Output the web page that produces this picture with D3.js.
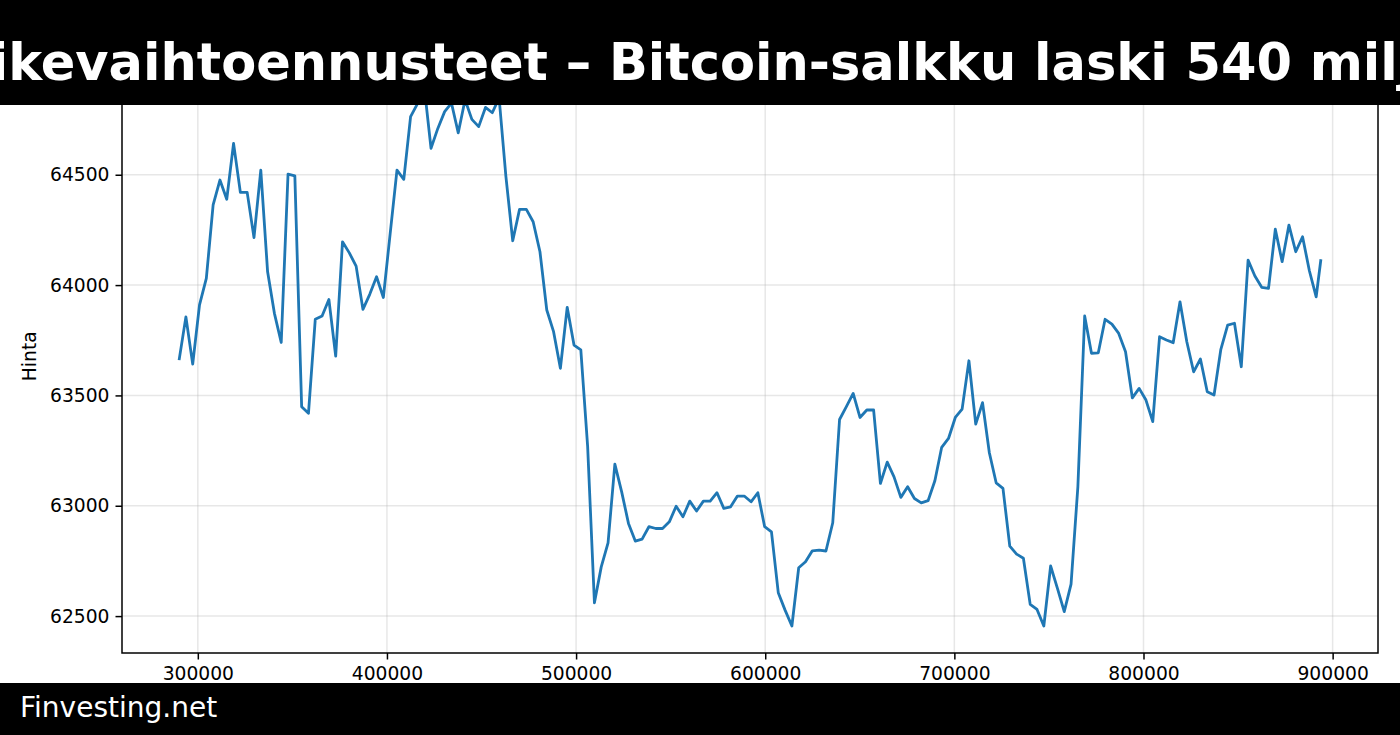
<!DOCTYPE html>
<html>
<head>
<meta charset="utf-8">
<script src="https://cdn.jsdelivr.net/npm/d3@7"></script>
<style>
  body { margin: 0; background: #fff; }
  svg text { font-family: "DejaVu Sans", sans-serif; }
</style>
</head>
<body>
<script>
// hour stamps (seconds) and price per point
const seconds = [
  290100, 293700, 297300, 300900, 304500, 308100, 311700, 315300, 318900, 322500,
  326100, 329700, 333300, 336900, 340500, 344100, 347700, 351300, 354900, 358500,
  362100, 365700, 369300, 372900, 376500, 380100, 383700, 387300, 390900, 394500,
  398100, 401700, 405300, 408900, 412500, 416100, 419700, 423300, 426900, 430500,
  434100, 437700, 441300, 444900, 448500, 452100, 455700, 459300, 462900, 466500,
  470100, 473700, 477300, 480900, 484500, 488100, 491700, 495300, 498900, 502500,
  506100, 509700, 513300, 516900, 520500, 524100, 527700, 531300, 534900, 538500,
  542100, 545700, 549300, 552900, 556500, 560100, 563700, 567300, 570900, 574500,
  578100, 581700, 585300, 588900, 592500, 596100, 599700, 603300, 606900, 610500,
  614100, 617700, 621300, 624900, 628500, 632100, 635700, 639300, 642900, 646500,
  650100, 653700, 657300, 660900, 664500, 668100, 671700, 675300, 678900, 682500,
  686100, 689700, 693300, 696900, 700500, 704100, 707700, 711300, 714900, 718500,
  722100, 725700, 729300, 732900, 736500, 740100, 743700, 747300, 750900, 754500,
  758100, 761700, 765300, 768900, 772500, 776100, 779700, 783300, 786900, 790500,
  794100, 797700, 801300, 804900, 808500, 812100, 815700, 819300, 822900, 826500,
  830100, 833700, 837300, 840900, 844500, 848100, 851700, 855300, 858900, 862500,
  866100, 869700, 873300, 876900, 880500, 884100, 887700, 891300, 893800
];
const prices = [
  63660, 63856, 63642, 63910, 64030, 64363, 64476, 64389, 64642, 64420,
  64420, 64215, 64521, 64060, 63872, 63740, 64503, 64495, 63449, 63419,
  63845, 63860, 63935, 63678, 64196, 64146, 64086, 63890, 63958, 64038,
  63944, 64233, 64521, 64479, 64763, 64821, 64900, 64620, 64710, 64786,
  64825, 64690, 64840, 64751, 64718, 64805, 64781, 64848, 64491, 64201,
  64343, 64343, 64287, 64151, 63887, 63789, 63623, 63899, 63728, 63706,
  63270, 62560, 62723, 62832, 63189, 63063, 62920, 62840, 62849, 62905,
  62897, 62897, 62927, 62998, 62950, 63021, 62976, 63021, 63021, 63059,
  62988, 62995, 63044, 63044, 63018, 63059, 62905, 62882, 62606, 62527,
  62455, 62719, 62746, 62796, 62799, 62795, 62923, 63391, 63449, 63509,
  63400, 63434, 63434, 63101, 63198, 63131, 63038, 63086, 63033, 63013,
  63023, 63113, 63265, 63305, 63400, 63438, 63657, 63370, 63467, 63240,
  63104, 63079, 62817, 62781, 62762, 62553, 62530, 62455, 62727, 62626,
  62520, 62645, 63086, 63860, 63691, 63693, 63845, 63823, 63781, 63698,
  63489, 63532, 63479, 63381, 63766, 63751, 63739, 63924, 63743, 63607,
  63665, 63517, 63502, 63709, 63819, 63827, 63630, 64113, 64041, 63990,
  63985, 64253, 64106, 64272, 64151, 64219, 64065, 63947, 64117
];
const xTicks = [300000, 400000, 500000, 600000, 700000, 800000, 900000];
const yTicks = [62500, 63000, 63500, 64000, 64500];
const title = "Bitcoin-kurssi ja pörssikevaihtoennusteet – Bitcoin-salkku laski 540 miljoonaa dollaria";
const yLabel = "Hinta";
const footer = "Finvesting.net";

const W = 1400, H = 735;
const box = { left: 122, right: 1378, top: 59.5, bottom: 653 };

const svg = d3.select("body").append("svg")
  .attr("width", W)
  .attr("height", H);

// matplotlib style 5% margins
function padded(ext) {
  const p = (ext[1] - ext[0]) * 0.05;
  return [ext[0] - p, ext[1] + p];
}

const x = d3.scaleLinear().domain(padded(d3.extent(seconds))).range([box.left, box.right]);
const y = d3.scaleLinear().domain(padded(d3.extent(prices))).range([box.bottom, box.top]);

const plot = svg.append("g");

// grid
plot.append("g").selectAll("line").data(xTicks).enter().append("line")
  .attr("x1", d => x(d)).attr("x2", d => x(d))
  .attr("y1", box.top).attr("y2", box.bottom)
  .attr("stroke", "#b0b0b0").attr("stroke-opacity", 0.3).attr("stroke-width", 1.5);
plot.append("g").selectAll("line").data(yTicks).enter().append("line")
  .attr("x1", box.left).attr("x2", box.right)
  .attr("y1", d => y(d)).attr("y2", d => y(d))
  .attr("stroke", "#b0b0b0").attr("stroke-opacity", 0.3).attr("stroke-width", 1.5);

const line = d3.line()
  .x((d, i) => x(seconds[i]))
  .y(d => y(d));

plot.append("path")
  .datum(prices)
  .attr("fill", "none")
  .attr("stroke", "#1f77b4")
  .attr("stroke-width", 2.8)
  .attr("stroke-linejoin", "round")
  .attr("d", line);

// axes
const xAxis = d3.axisBottom(x).tickValues(xTicks).tickFormat(d3.format("d"))
  .tickSize(6.5).tickPadding(6);
const yAxis = d3.axisLeft(y).tickValues(yTicks).tickFormat(d3.format("d"))
  .tickSize(6.5).tickPadding(6);

const gx = plot.append("g").attr("transform", `translate(0,${box.bottom})`).call(xAxis);
const gy = plot.append("g").attr("transform", `translate(${box.left},0)`).call(yAxis);
[gx, gy].forEach(g => {
  g.select(".domain").remove();
  g.selectAll(".tick line").attr("stroke", "#000").attr("stroke-width", 1.5);
  g.selectAll(".tick text").attr("fill", "#000")
    .style("font-family", "DejaVu Sans").style("font-size", "18.7px");
});
gx.selectAll(".tick text").attr("dy", "0.78em");

// spines
plot.append("rect")
  .attr("x", box.left).attr("y", box.top)
  .attr("width", box.right - box.left).attr("height", box.bottom - box.top)
  .attr("fill", "none").attr("stroke", "#000").attr("stroke-width", 1.5);

plot.append("text")
  .attr("transform", `translate(36,${(box.top + box.bottom) / 2}) rotate(-90)`)
  .attr("text-anchor", "middle")
  .style("font-size", "18.7px")
  .attr("fill", "#000")
  .text(yLabel);

// title band
svg.append("rect").attr("x", 0).attr("y", 0).attr("width", W).attr("height", 105).attr("fill", "#000");
const t = svg.append("text")
  .attr("y", 80)
  .attr("fill", "#fff")
  .style("font-size", "51px")
  .style("font-weight", "bold")
  .text(title);
const cut = title.indexOf("Bitcoin-salkku");
t.attr("x", 609 - t.node().getSubStringLength(0, cut));

// footer band
svg.append("rect").attr("x", 0).attr("y", 683).attr("width", W).attr("height", H - 683).attr("fill", "#000");
svg.append("text")
  .attr("x", 20).attr("y", 717)
  .attr("fill", "#fff")
  .style("font-size", "28px")
  .text(footer);
</script>
</body>
</html>
